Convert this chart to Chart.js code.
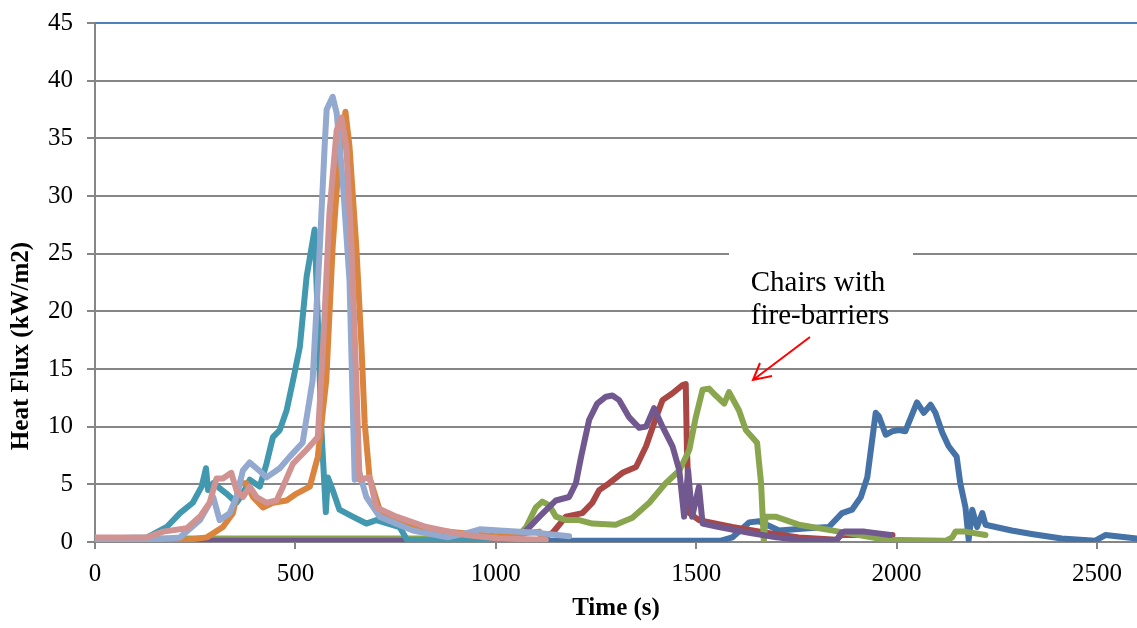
<!DOCTYPE html>
<html lang="en">

<head>
    <meta charset="UTF-8">
    <title>Heat Flux vs Time</title>
    <script src="https://cdn.jsdelivr.net/npm/chart.js@4.4.1/dist/chart.umd.min.js"></script>
    <style>
        html, body {
            margin: 0;
            padding: 0;
            background: #fff;
        }

        #wrap {
            width: 1137px;
            height: 628px;
        }
    </style>
</head>

<body>
    <div id="wrap"><canvas id="fluxChart"></canvas></div>

    <script>
        // one time / flux pair per chair test
        const seriesNames = ['Chair 1', 'Chair 2', 'Chair 3', 'Chair 4', 'Chair 5', 'Chair 6', 'Chair 7', 'Chair 8'];
        const seriesColors = ['#4572A7', '#AA4643', '#89A54E', '#71588F', '#4198AF', '#DB843D', '#93A9CF', '#D19392'];

        const time1 = [0, 1100, 1560, 1590, 1632, 1657, 1707, 1780, 1831, 1864, 1889, 1911, 1927, 1939, 1948, 1956, 1973, 1989, 2006, 2022, 2031, 2051, 2068, 2085, 2097, 2114, 2130, 2150, 2159, 2172, 2180, 2189, 2201, 2214, 2222, 2287, 2337, 2412, 2495, 2521, 2600];
        const flux1 = [0.1, 0.1, 0.1, 0.4, 1.7, 1.8, 1.0, 1.2, 1.3, 2.5, 2.8, 3.9, 5.6, 8.8, 11.2, 10.9, 9.3, 9.6, 9.7, 9.6, 10.4, 12.1, 11.2, 11.9, 11.2, 9.5, 8.3, 7.4, 5.1, 3.0, 0.2, 2.8, 1.3, 2.5, 1.5, 1.0, 0.7, 0.3, 0.1, 0.6, 0.3];

        const time2 = [0, 1100, 1142, 1175, 1216, 1241, 1258, 1283, 1316, 1350, 1375, 1400, 1416, 1441, 1466, 1474, 1477, 1483, 1507, 1590, 1674, 1756, 1850, 1862, 1990];
        const flux2 = [0.1, 0.1, 0.8, 2.2, 2.5, 3.4, 4.5, 5.1, 6.0, 6.5, 8.3, 10.8, 12.3, 12.9, 13.6, 13.7, 8.0, 2.5, 1.9, 1.3, 0.8, 0.4, 0.2, 0.6, 0.6];

        const time3 = [0, 1050, 1076, 1100, 1116, 1133, 1150, 1175, 1208, 1241, 1299, 1341, 1383, 1424, 1458, 1483, 1499, 1516, 1532, 1549, 1570, 1582, 1607, 1624, 1652, 1662, 1669, 1673, 1698, 1756, 1789, 1856, 1956, 1973, 2122, 2139, 2147, 2172, 2222];
        const flux3 = [0.3, 0.3, 1.3, 3.0, 3.5, 3.2, 2.2, 1.9, 1.9, 1.6, 1.5, 2.1, 3.4, 5.1, 6.2, 8.0, 10.8, 13.2, 13.3, 12.7, 12.0, 13.0, 11.4, 9.7, 8.6, 5.1, 0.0, 2.2, 2.2, 1.5, 1.3, 0.9, 0.3, 0.2, 0.1, 0.4, 0.9, 0.9, 0.6];

        const time4 = [0, 1050, 1076, 1109, 1150, 1183, 1200, 1213, 1233, 1253, 1275, 1291, 1308, 1333, 1358, 1375, 1395, 1416, 1441, 1458, 1470, 1480, 1490, 1507, 1516, 1557, 1632, 1700, 1756, 1850, 1862, 1870, 1920, 1985];
        const flux4 = [0.1, 0.1, 1.0, 2.2, 3.6, 3.9, 5.1, 7.4, 10.6, 12.0, 12.6, 12.7, 12.3, 10.8, 9.9, 10.0, 11.6, 10.0, 8.3, 6.2, 2.2, 6.2, 2.2, 4.8, 1.6, 1.3, 0.8, 0.4, 0.2, 0.1, 0.8, 0.9, 0.9, 0.6];

        const time5 = [0, 130, 179, 212, 244, 266, 277, 282, 295, 328, 353, 369, 386, 411, 428, 444, 461, 478, 494, 511, 528, 548, 556, 565, 576, 581, 593, 610, 643, 677, 702, 760, 780, 850, 1000];
        const flux5 = [0.3, 0.4, 1.3, 2.5, 3.4, 4.8, 6.4, 4.5, 5.1, 4.2, 3.4, 4.2, 5.4, 4.8, 6.8, 9.1, 9.7, 11.4, 14.0, 16.9, 23.0, 27.1, 19.3, 9.7, 2.6, 5.6, 4.5, 2.8, 2.2, 1.6, 1.9, 1.3, 0.1, 0.1, 0.1];

        const time6 = [0, 212, 279, 319, 344, 361, 378, 394, 419, 444, 478, 503, 536, 556, 577, 593, 605, 618, 625, 635, 652, 665, 673, 685, 710, 760, 850, 1000, 1109, 1115];
        const flux6 = [0.1, 0.1, 0.4, 1.3, 2.5, 5.1, 5.1, 3.9, 3.0, 3.4, 3.6, 4.2, 4.8, 7.4, 14.0, 25.6, 31.4, 35.7, 37.3, 34.3, 25.6, 16.9, 10.3, 5.6, 2.8, 1.6, 1.0, 0.5, 0.9, 0.5];

        const time7 = [0, 145, 212, 262, 295, 311, 336, 353, 369, 386, 416, 428, 461, 486, 518, 543, 561, 573, 578, 593, 603, 618, 635, 648, 660, 677, 710, 793, 880, 930, 960, 1100, 1183];
        const flux7 = [0.2, 0.2, 0.4, 1.9, 3.9, 1.9, 2.5, 3.9, 6.2, 6.9, 6.0, 5.6, 6.4, 7.4, 8.6, 14.0, 25.6, 34.3, 37.5, 38.6, 37.2, 31.4, 22.7, 5.4, 6.0, 3.9, 2.2, 1.0, 0.4, 0.8, 1.1, 0.8, 0.5];

        const time8 = [0, 130, 170, 229, 262, 286, 303, 319, 340, 353, 369, 386, 403, 428, 453, 469, 494, 528, 556, 569, 585, 603, 615, 627, 640, 652, 660, 685, 702, 752, 827, 926, 1009, 1125];
        const flux8 = [0.4, 0.4, 0.9, 1.2, 2.2, 3.4, 5.5, 5.5, 6.0, 4.5, 3.9, 4.8, 3.9, 3.4, 3.6, 4.8, 6.8, 8.0, 9.1, 16.9, 28.5, 35.7, 36.8, 34.3, 25.6, 14.0, 5.4, 5.6, 3.0, 2.2, 1.3, 0.6, 0.3, 0.2];

        const allTimes = [time1, time2, time3, time4, time5, time6, time7, time8];
        const allFlux = [flux1, flux2, flux3, flux4, flux5, flux6, flux7, flux8];

        const xTickValues = [0, 500, 1000, 1500, 2000, 2500];
        const yTickStep = 5;
        const annotationLines = ['Chairs with', 'fire-barriers'];

        const serif = "'Liberation Serif', 'Times New Roman', serif";

        const datasets = seriesNames.map((name, i) => ({
            label: name,
            data: allTimes[i].map((t, k) => ({ x: t, y: allFlux[i][k] })),
            borderColor: seriesColors[i],
            borderWidth: 6,
            pointRadius: 0,
            tension: 0,
            borderJoinStyle: 'round',
            borderCapStyle: 'round',
            order: seriesNames.length - i
        }));

        // extra drawing: blue frame top, axis title at its spot, the callout
        const extras = {
            id: 'extras',
            afterDatasetsDraw(chart) {
                const ctx = chart.ctx;
                const area = chart.chartArea;
                ctx.save();

                ctx.strokeStyle = '#4F81BD';
                ctx.lineWidth = 2;
                ctx.beginPath();
                ctx.moveTo(area.left, area.top);
                ctx.lineTo(area.right, area.top);
                ctx.stroke();

                ctx.fillStyle = '#fff';
                ctx.fillRect(729, 246, 184, 54);

                ctx.fillStyle = '#000';
                ctx.font = '29px ' + serif;
                ctx.textAlign = 'center';
                ctx.textBaseline = 'middle';
                ctx.fillText(annotationLines[0], 818, 283);
                ctx.fillText(annotationLines[1], 820, 316);

                ctx.strokeStyle = '#FF0000';
                ctx.lineWidth = 2;
                ctx.beginPath();
                ctx.moveTo(810, 337);
                ctx.lineTo(753, 380);
                ctx.moveTo(760, 363);
                ctx.lineTo(753, 380);
                ctx.lineTo(772, 376);
                ctx.stroke();

                ctx.translate(22, 346);
                ctx.rotate(-Math.PI / 2);
                ctx.fillStyle = '#000';
                ctx.font = 'bold 25px ' + serif;
                ctx.fillText('Heat Flux (kW/m2)', 0, 0);
                ctx.restore();
            }
        };

        const ctx = document.getElementById('fluxChart').getContext('2d');
        const chart = new Chart(ctx, {
            type: 'line',
            data: { datasets: datasets },
            options: {
                responsive: true,
                maintainAspectRatio: false,
                animation: false,
                parsing: false,
                layout: { padding: { top: 23, right: 0, left: 0, bottom: 0 } },
                plugins: {
                    legend: { display: false },
                    tooltip: { enabled: false }
                },
                scales: {
                    x: {
                        type: 'linear',
                        min: 0,
                        max: 2600,
                        afterBuildTicks: (scale) => {
                            scale.ticks = xTickValues.map(v => ({ value: v }));
                        },
                        afterFit: (scale) => {
                            scale.height = 86;
                            scale.paddingLeft = 0;
                            scale.paddingRight = 0;
                        },
                        ticks: {
                            color: '#000',
                            padding: 10,
                            font: { family: serif, size: 25 },
                            maxRotation: 0,
                            autoSkip: false,
                            callback: (v) => String(v)
                        },
                        grid: {
                            drawOnChartArea: false,
                            drawTicks: true,
                            tickLength: 7,
                            color: '#868686',
                            lineWidth: 2
                        },
                        border: { color: '#868686', width: 2 },
                        title: {
                            display: true,
                            text: 'Time (s)',
                            color: '#000',
                            font: { family: serif, size: 25, weight: 'bold' },
                            padding: { top: 0 }
                        }
                    },
                    y: {
                        min: 0,
                        max: 45,
                        afterFit: (scale) => {
                            scale.width = 95;
                            scale.paddingTop = 0;
                            scale.paddingBottom = 0;
                        },
                        ticks: {
                            stepSize: yTickStep,
                            color: '#000',
                            padding: 14,
                            font: { family: serif, size: 25 }
                        },
                        grid: {
                            color: '#868686',
                            lineWidth: 2,
                            tickLength: 8
                        },
                        border: { color: '#868686', width: 2 }
                    }
                }
            },
            plugins: [extras]
        });
    </script>
</body>

</html>
